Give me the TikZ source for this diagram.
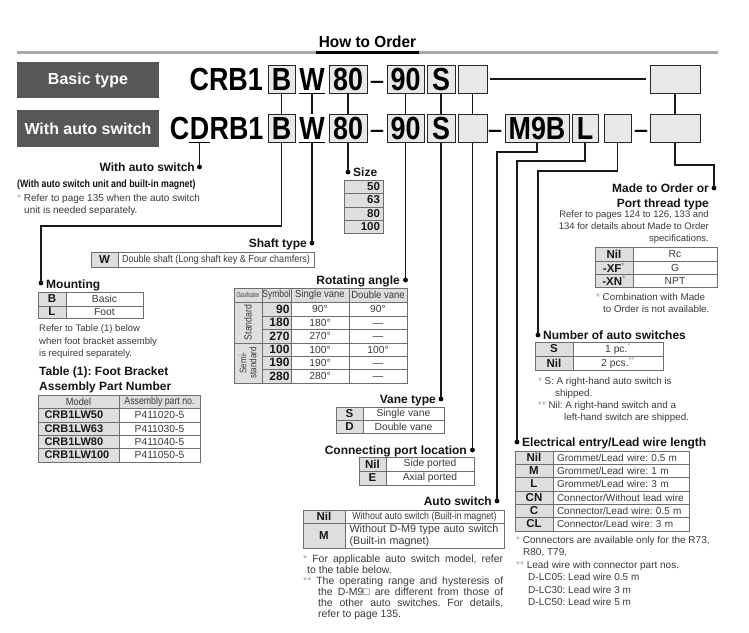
\documentclass[tikz,border=0pt]{standalone}
\usepackage{fontspec}
\setmainfont{Liberation Sans}
\usepackage{graphicx}
\frenchspacing
\definecolor{boxdark}{HTML}{575757}
\definecolor{cellgray}{HTML}{DEDEDE}
\definecolor{codegray}{HTML}{E8E8E8}
\definecolor{rulec}{HTML}{6E6E6E}
\definecolor{txt}{HTML}{3A3A3A}
\definecolor{hdrline}{HTML}{A8A8A8}
\definecolor{astc}{HTML}{A0A0A0}
\newcommand\mycnd[2]{\scalebox{#1}[1]{#2}}
\newcommand\ak{\textcolor{astc}{*}}
\newcommand\bigf{\fontsize{32}{32}\selectfont\bfseries}
\newcommand\codedash{\mycnd{0.7}{\vphantom{B}\raisebox{0pt}{\mdseries –}}}
\newcommand\nodash{\vphantom{0}—}
\newcommand\tcel[7]{\node[tcell,#6,minimum width={(#4-#2)*1pt},minimum height={(#5-#3)*1pt}] (#1) at ({(#2+#4)/2},{(#3+#5)/2}) {#7};}
\tikzset{
  lab/.style={fill=boxdark, text=white, font=\fontsize{16}{16}\selectfont\bfseries, inner sep=0, minimum width=142},
  code/.style={draw=black!85, line width=0.9pt, fill=codegray, inner sep=0, minimum height=28, font=\bigf},
  codetxt/.style={inner sep=0, minimum height=28, font=\bigf},
  conn/.style={line width=1.2pt, draw=black!90},
  dotn/.style={circle, fill=black, inner sep=0, minimum size=4.8},
  head/.style={inner sep=0, font=\fontsize{12}{12}\selectfont\bfseries, text=black!92},
  note/.style={inner sep=0, font=\fontsize{10}{12.3}\selectfont, text=txt, align=left},
  tcell/.style={draw=rulec, line width=0.7pt, inner sep=0, font=\fontsize{10.3}{11}\selectfont, text=txt},
  sym/.style={fill=cellgray, font=\fontsize{11.5}{12}\selectfont\bfseries, text=black!90},
  hdr/.style={fill=cellgray},
  asn/.style={note, anchor=base west, font=\fontsize{10.5}{11}\selectfont},
}
\begin{document}
\begin{tikzpicture}[x=1pt,y=-1pt]
\useasboundingbox (0,0) rectangle (749,632);
\fill[white] (0,0) rectangle (749,632);
% title
\node[inner sep=0, font=\fontsize{16}{16}\selectfont\bfseries] (title) at (367.5,42) {\mycnd{0.96}{How to Order}};
\draw[hdrline, line width=3pt] (17,52) -- (718,52);
\draw[black, line width=3.5pt] (316,52.5) -- (419,52.5);
% labels
\node[lab, minimum height=36] (labBasic) at (88,80) {Basic type};
\node[lab, minimum height=37] (labAuto) at (88,128.5) {With auto switch};
% row 1
\node[codetxt, anchor=east] (crb) at (263,79) {\mycnd{0.84}{CRB1}};
\node[code, minimum width=27] (b1) at (281.5,79) {\mycnd{0.84}{B}};
\node[codetxt, minimum width=26] (w1) at (312,79) {\mycnd{0.84}{W}};
\node[code, minimum width=38] (z1) at (348,79) {\mycnd{0.84}{80}};
\node[codetxt] (h1) at (377,79) {\codedash};
\node[code, minimum width=37] (a1) at (405.5,79) {\mycnd{0.84}{90}};
\node[code, minimum width=28] (s1) at (441,79) {\mycnd{0.84}{S}};
\node[code, minimum width=29] (e1) at (472.5,79) {};
\node[code, minimum width=50] (r1) at (675,79) {};
\draw[conn] ([xshift=3pt]e1.east) -- ([xshift=-4pt]r1.west);
\draw[line width=1.1pt] (w1.south west) -- (w1.south east);
% row 2
\node[codetxt] (dD) at (199.5,128.5) {\mycnd{0.84}{D}};
\node[codetxt, anchor=east] (cC) at (dD.west) {\mycnd{0.84}{C}};
\node[codetxt, anchor=west] (rb) at (dD.east) {\mycnd{0.84}{RB1}};
\draw[line width=1.1pt] ([xshift=-1pt]dD.south west) -- ([xshift=1pt]dD.south east);
\node[code, minimum width=27] (b2) at (281.5,128.5) {\mycnd{0.84}{B}};
\node[codetxt, minimum width=26] (w2) at (312,128.5) {\mycnd{0.84}{W}};
\node[code, minimum width=38] (z2) at (348,128.5) {\mycnd{0.84}{80}};
\node[codetxt] (h2) at (377,128.5) {\codedash};
\node[code, minimum width=37] (a2) at (405.5,128.5) {\mycnd{0.84}{90}};
\node[code, minimum width=28] (s2) at (441,128.5) {\mycnd{0.84}{S}};
\node[code, minimum width=29] (e2) at (472.5,128.5) {};
\node[codetxt] (h3) at (495,128.5) {\codedash};
\node[code, minimum width=64] (m9) at (537,128.5) {\mycnd{0.84}{M9B}};
\node[code, minimum width=26] (lL) at (585,128.5) {\mycnd{0.84}{L}};
\node[code, minimum width=27] (e3) at (617.5,128.5) {};
\node[codetxt] (h4) at (641,128.5) {\codedash};
\node[code, minimum width=50] (r2) at (675,128.5) {};
\draw[line width=1.1pt] (w2.south west) -- (w2.south east);
% between rows
\draw[conn] (b1.south) -- (b2.north);
\draw[conn] (w1.south) -- (w2.north);
\draw[conn] (z1.south) -- (z2.north);
\draw[conn] (a1.south) -- (a2.north);
\draw[conn] (s1.south) -- (s2.north);
\draw[conn] (e1.south) -- (e2.north);
\draw[conn] (r1.south) -- (r2.north);
% dots
\node[dotn] (dAS) at (199.5,167) {};
\node[dotn] (dMount) at (41,283) {};
\node[dotn] (dShaft) at (312,243) {};
\node[dotn] (dSize) at (348,172) {};
\node[dotn] (dRot) at (405.5,280) {};
\node[dotn] (dVane) at (441,399) {};
\node[dotn] (dPort) at (472.5,450) {};
\node[dotn] (dAuto) at (497,501) {};
\node[dotn] (dElec) at (517,442) {};
\node[dotn] (dNum) at (538,335) {};
\node[dotn] (dMade) at (714,188) {};
\coordinate (bendB) at (41,226);
\coordinate (bendM) at (497,152);
\coordinate (bendL) at (517,161);
\coordinate (bendN) at (538,171);
\coordinate (bendR) at (714,165);
% connectors
\draw[conn] ([yshift=-0.5pt]dD.south) -- (dAS.center);
\draw[conn] (b2.south) |- (bendB) -- (dMount.center);
\draw[conn] (w2.south) -- (dShaft.center);
\draw[conn] (z2.south) -- (dSize.center);
\draw[conn] (a2.south) -- (dRot.center);
\draw[conn] (s2.south) -- (dVane.center);
\draw[conn] (e2.south) -- (dPort.center);
\draw[conn] (m9.south) |- (bendM) -- (dAuto.center);
\draw[conn] (lL.south) |- (bendL) -- (dElec.center);
\draw[conn] (e3.south) |- (bendN) -- (dNum.center);
\draw[conn] (r2.south) |- (bendR) -- (dMade.center);
% headings
\node[head, anchor=base east] (hAS) at (195,171.3) {With auto switch};
\node[head, anchor=base west] (hMount) at (46,288) {Mounting};
\node[head, anchor=base east] (hShaft) at (307,247.3) {Shaft type};
\node[head, anchor=base west] (hSize) at (353,176.3) {Size};
\node[head, anchor=base east] (hRot) at (400,284.3) {Rotating angle};
\node[head, anchor=base east] (hVane) at (436,403.3) {Vane type};
\node[head, anchor=base east] (hPort) at (467,454.3) {Connecting port location};
\node[head, anchor=base east] (hAuto) at (492,505.3) {Auto switch};
\node[head, anchor=base west] (hElec) at (522,446.3) {Electrical entry/Lead wire length};
\node[head, anchor=base west] (hNum) at (543,339.3) {Number of auto switches};
\node[head, anchor=base east] (hMade1) at (709,192.3) {Made to Order or};
\node[head, anchor=base east] (hMade2) at (709,207.5) {Port thread type};
% with auto switch notes
\node[inner sep=0, anchor=base west, text=black!92] (asSub) at (17,187) {\mycnd{0.84}{\fontsize{10.5}{12}\selectfont\bfseries (With auto switch unit and built-in magnet)}};
\node[note, anchor=north west, font=\fontsize{10}{12}\selectfont] (asNote) at (17,194) {\ak{} Refer to page 135 when the auto switch\\\hspace*{7pt}unit is needed separately.};
% mounting table
\tcel{mB}{38}{292}{66}{306}{sym}{B}
\tcel{mBt}{66}{292}{143}{306}{}{Basic}
\tcel{mL}{38}{306}{66}{318}{sym}{L}
\tcel{mLt}{66}{306}{143}{318}{}{Foot}
\node[note, anchor=north west, font=\fontsize{9.5}{12.5}\selectfont] (mNote) at (39,324.5) {Refer to Table (1) below\\when foot bracket assembly\\is required separately.};
\node[head, anchor=north west, align=left, font=\fontsize{12}{15}\selectfont\bfseries] (ftTitle) at (39,367) {Table (1): Foot Bracket\\Assembly Part Number};
% foot table
\tcel{ftH1}{38}{395}{119}{408}{hdr}{\mycnd{0.9}{Model}}
\tcel{ftH2}{119}{395}{200}{408}{hdr}{\mycnd{0.85}{Assembly part no.}}
\tcel{ft1a}{38}{408}{119}{422}{sym,font=\fontsize{11}{12}\selectfont\bfseries,text width=68,align=left}{CRB1LW50}
\tcel{ft1b}{119}{408}{200}{422}{}{P411020-5}
\tcel{ft2a}{38}{422}{119}{435}{sym,font=\fontsize{11}{12}\selectfont\bfseries,text width=68,align=left}{CRB1LW63}
\tcel{ft2b}{119}{422}{200}{435}{}{P411030-5}
\tcel{ft3a}{38}{435}{119}{448}{sym,font=\fontsize{11}{12}\selectfont\bfseries,text width=68,align=left}{CRB1LW80}
\tcel{ft3b}{119}{435}{200}{448}{}{P411040-5}
\tcel{ft4a}{38}{448}{119}{462}{sym,font=\fontsize{11}{12}\selectfont\bfseries,text width=68,align=left}{CRB1LW100}
\tcel{ft4b}{119}{448}{200}{462}{}{P411050-5}
% shaft table
\tcel{shW}{91}{252}{118}{267}{sym}{W}
\tcel{shT}{118}{252}{314}{267}{}{\mycnd{0.88}{Double shaft (Long shaft key \& Four chamfers)}}
% size table
\tcel{sz1}{344}{180}{383}{193}{sym,text width=33,align=right}{50}
\tcel{sz2}{344}{193}{383}{207}{sym,text width=33,align=right}{63}
\tcel{sz3}{344}{207}{383}{220}{sym,text width=33,align=right}{80}
\tcel{sz4}{344}{220}{383}{233}{sym,text width=33,align=right}{100}
% rotating angle table
\tcel{raH1}{234}{288}{262}{302}{hdr}{\mycnd{0.55}{\fontsize{7}{8}\selectfont Classification}}
\tcel{raH2}{262}{288}{291}{302}{hdr}{\mycnd{0.82}{Symbol}}
\tcel{raH3}{291}{288}{349}{302}{hdr}{\mycnd{0.92}{Single vane}}
\tcel{raH4}{349}{288}{407}{302}{hdr}{\mycnd{0.92}{Double vane}}
\tcel{raC1}{234}{302}{262}{343}{hdr}{\rotatebox{90}{\mycnd{0.85}{Standard}}}
\tcel{raC2}{234}{343}{262}{383}{hdr,font=\fontsize{9.5}{9.5}\selectfont}{\rotatebox{90}{\mycnd{0.85}{\shortstack{Semi-\\standard}}}}
\tcel{ra1s}{262}{302}{291}{316}{sym,font=\fontsize{12}{12}\selectfont\bfseries,text width=26,align=right}{90}
\tcel{ra2s}{262}{316}{291}{329}{sym,font=\fontsize{12}{12}\selectfont\bfseries,text width=26,align=right}{180}
\tcel{ra3s}{262}{329}{291}{343}{sym,font=\fontsize{12}{12}\selectfont\bfseries,text width=26,align=right}{270}
\tcel{ra4s}{262}{343}{291}{356}{sym,font=\fontsize{12}{12}\selectfont\bfseries,text width=26,align=right}{100}
\tcel{ra5s}{262}{356}{291}{369}{sym,font=\fontsize{12}{12}\selectfont\bfseries,text width=26,align=right}{190}
\tcel{ra6s}{262}{369}{291}{383}{sym,font=\fontsize{12}{12}\selectfont\bfseries,text width=26,align=right}{280}
\tcel{ra1a}{291}{302}{349}{316}{}{90°}
\tcel{ra2a}{291}{316}{349}{329}{}{180°}
\tcel{ra3a}{291}{329}{349}{343}{}{270°}
\tcel{ra4a}{291}{343}{349}{356}{}{100°}
\tcel{ra5a}{291}{356}{349}{369}{}{190°}
\tcel{ra6a}{291}{369}{349}{383}{}{280°}
\tcel{ra1b}{349}{302}{407}{316}{}{90°}
\tcel{ra2b}{349}{316}{407}{329}{}{\nodash}
\tcel{ra3b}{349}{329}{407}{343}{}{\nodash}
\tcel{ra4b}{349}{343}{407}{356}{}{100°}
\tcel{ra5b}{349}{356}{407}{369}{}{\nodash}
\tcel{ra6b}{349}{369}{407}{383}{}{\nodash}
% vane type
\tcel{vS}{336}{407}{363}{420}{sym}{S}
\tcel{vSt}{363}{407}{444}{420}{}{Single vane}
\tcel{vD}{336}{420}{363}{433}{sym}{D}
\tcel{vDt}{363}{420}{444}{433}{}{Double vane}
% port
\tcel{pN}{359}{457}{386}{471}{sym}{Nil}
\tcel{pNt}{386}{457}{474}{471}{}{Side ported}
\tcel{pE}{359}{471}{386}{485}{sym}{E}
\tcel{pEt}{386}{471}{474}{485}{}{Axial ported}
% auto switch
\tcel{asN}{303}{510}{345}{523}{sym}{Nil}
\tcel{asNt}{345}{510}{504}{523}{}{\mycnd{0.86}{Without auto switch (Built-in magnet)}}
\tcel{asM}{303}{523}{345}{548}{sym}{M}
\tcel{asMt}{345}{523}{504}{548}{align=left,text width=150,font=\fontsize{10.8}{12}\selectfont}{Without D-M9 type auto switch\\(Built-in magnet)}
\node[asn] (an1) at (303,562.7) {\makebox[200pt][s]{\ak{} For applicable auto switch model, refer}};
\node[asn] (an2) at (307,573.7) {to the table below.};
\node[asn] (an3) at (303,584.7) {\makebox[200pt][s]{\ak\ak{} The operating range and hysteresis of}};
\node[asn] (an4) at (318,595.7) {\makebox[185pt][s]{the D-M9□ are different from those of}};
\node[asn] (an5) at (318,606.7) {\makebox[185pt][s]{the other auto switches. For details,}};
\node[asn] (an6) at (318,617.7) {refer to page 135.};
% made to order
\node[note, anchor=north east, align=right, font=\fontsize{9.5}{12}\selectfont] (moNote) at (709,210.5) {Refer to pages 124 to 126, 133 and\\134 for details about Made to Order\\specifications.};
\tcel{moN}{595}{247}{633}{261}{sym}{Nil}
\tcel{moNt}{633}{247}{717}{261}{}{Rc}
\tcel{moF}{595}{261}{633}{274}{sym}{-XF\textsuperscript{\ak}}
\tcel{moFt}{633}{261}{717}{274}{}{G}
\tcel{moX}{595}{274}{633}{287}{sym}{-XN\textsuperscript{\ak}}
\tcel{moXt}{633}{274}{717}{287}{}{NPT}
\node[note, anchor=north west, font=\fontsize{9.8}{11.5}\selectfont] (moNote2) at (596,293.3) {\ak{} Combination with Made\\\hspace*{7pt}to Order is not available.};
% number of auto switches
\tcel{nS}{535}{342}{573}{356}{sym}{S}
\tcel{nSt}{573}{342}{663}{356}{}{1 pc.\textsuperscript{\ak}}
\tcel{nN}{535}{356}{573}{370}{sym}{Nil}
\tcel{nNt}{573}{356}{663}{370}{}{2 pcs.\textsuperscript{\ak\ak}}
\node[note, anchor=north west, font=\fontsize{9.8}{12}\selectfont] (nNote) at (538,377.5) {\ak{} S: A right-hand auto switch is\\\hspace*{17pt}shipped.\\\ak\ak{} Nil: A right-hand switch and a\\\hspace*{26pt}left-hand switch are shipped.};
% electrical entry
\tcel{el1}{515}{451}{553}{464}{sym}{Nil}
\tcel{el1t}{553}{451}{689}{464}{text width=128,align=left,font=\fontsize{10}{11}\selectfont}{Grommet/Lead wire: 0.5 m}
\tcel{el2}{515}{464}{553}{477}{sym}{M}
\tcel{el2t}{553}{464}{689}{477}{text width=128,align=left,font=\fontsize{10}{11}\selectfont}{Grommet/Lead wire: 1 m}
\tcel{el3}{515}{477}{553}{491}{sym}{L}
\tcel{el3t}{553}{477}{689}{491}{text width=128,align=left,font=\fontsize{10}{11}\selectfont}{Grommet/Lead wire: 3 m}
\tcel{el4}{515}{491}{553}{504}{sym}{CN}
\tcel{el4t}{553}{491}{689}{504}{text width=128,align=left,font=\fontsize{10}{11}\selectfont}{Connector/Without lead wire}
\tcel{el5}{515}{504}{553}{517}{sym}{C}
\tcel{el5t}{553}{504}{689}{517}{text width=128,align=left,font=\fontsize{10}{11}\selectfont}{Connector/Lead wire: 0.5 m}
\tcel{el6}{515}{517}{553}{531}{sym}{CL}
\tcel{el6t}{553}{517}{689}{531}{text width=128,align=left,font=\fontsize{10}{11}\selectfont}{Connector/Lead wire: 3 m}
\node[note, anchor=north west, font=\fontsize{10}{12.4}\selectfont] (eNote) at (516,536) {\ak{} Connectors are available only for the R73,\\\hspace*{7pt}R80, T79.\\\ak\ak{} Lead wire with connector part nos.\\\hspace*{12pt}D-LC05: Lead wire 0.5 m\\\hspace*{12pt}D-LC30: Lead wire 3 m\\\hspace*{12pt}D-LC50: Lead wire 5 m};
\end{tikzpicture}
\end{document}
